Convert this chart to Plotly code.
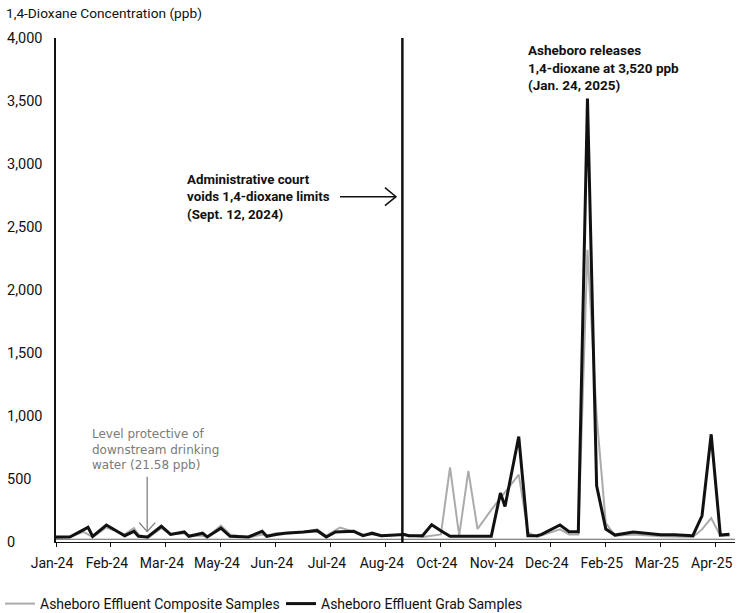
import plotly.graph_objects as go

# x axis: sample slot index (12 slots per labelled tick interval)
tick_slots = [0, 12, 24, 36, 48, 60, 72, 84, 96, 108, 120, 132, 144]
tick_labels = ["Jan-24", "Feb-24", "Mar-24", "May-24", "Jun-24", "Jul-24", "Aug-24",
               "Oct-24", "Nov-24", "Dec-24", "Feb-25", "Mar-25", "Apr-25"]

grab_slots = [0, 3, 7, 8, 11, 15, 17, 18, 20, 23, 25, 28, 29, 32, 33, 36, 38, 42, 45, 46,
              48, 50, 54, 57, 59, 61, 65, 67, 69, 71, 76, 77, 80, 82, 84, 86, 95, 97, 98,
              101, 103, 105, 106, 110, 112, 114, 116, 118, 120, 122, 126, 132, 135, 139,
              141, 143, 145, 147]
grab_ppb = [40, 40, 116, 45, 135, 50, 85, 45, 40, 125, 60, 80, 45, 70, 40, 110, 45, 40, 85, 45,
            60, 70, 80, 90, 40, 80, 85, 50, 70, 50, 60, 50, 50, 137, 90, 45, 45, 388, 282,
            837, 50, 50, 60, 135, 82, 82, 3520, 446, 103, 55, 80, 58, 58, 50,
            208, 855, 55, 62]

comp_slots = [0, 3, 6, 8, 11, 15, 17, 18, 20, 23, 25, 28, 29, 32, 33, 36, 38, 42, 45, 46,
              48, 50, 54, 57, 59, 62, 65, 67, 69, 71, 76, 80, 84, 86, 88, 90, 92, 95, 101,
              103, 105, 110, 112, 114, 116, 118, 120, 122, 126, 132, 139, 141, 143, 145, 147]
comp_ppb = [30, 40, 80, 40, 115, 60, 110, 60, 30, 110, 60, 70, 50, 50, 40, 130, 60, 35, 60, 50,
            70, 75, 80, 100, 50, 115, 80, 60, 60, 50, 60, 40, 60, 592, 50, 565, 103, 255, 535,
            77, 40, 100, 60, 60, 2320, 1000, 150, 50, 60, 45, 40, 100, 190, 50, 50]

y_ticks = [0, 500, 1000, 1500, 2000, 2500, 3000, 3500, 4000]
protective_level = 21.58
court_slot = 75.6          # Sept. 12, 2024
release_slot = 116         # Jan. 24, 2025

FONT = "Roboto"
L, R, T, B = 56, 3, 38, 71
W, H = 738, 613
PW, PH = W - L - R, H - T - B
XMAX = 148.2
YMAX = 4000

fig = go.Figure()
fig.add_trace(go.Scatter(x=comp_slots, y=comp_ppb, mode="lines",
                         name="Asheboro Effluent Composite Samples",
                         line=dict(color="#ababab", width=2)))
fig.add_trace(go.Scatter(x=grab_slots, y=grab_ppb, mode="lines",
                         name="Asheboro Effluent Grab Samples",
                         line=dict(color="#111111", width=3)))

shapes = []
shapes.append(dict(type="line", xref="paper", x0=0, x1=1, y0=protective_level, y1=protective_level,
                   line=dict(color="#666666", width=1)))
shapes.append(dict(type="line", x0=court_slot, x1=court_slot, yref="paper", y0=0, y1=1,
                   line=dict(color="#111111", width=2.5)))

px_x = XMAX / PW   # slots per pixel
px_y = YMAX / PH   # ppb per pixel

# court arrow (pointing right)
ay = 2741
tip = court_slot - 1.4
shapes.append(dict(type="line", x0=tip - 56 * px_x, x1=tip, y0=ay, y1=ay,
                   line=dict(color="#111111", width=1.5)))
shapes.append(dict(type="path",
                   path=f"M {tip - 11*px_x} {ay + 9*px_y} L {tip} {ay} L {tip - 11*px_x} {ay - 9*px_y}",
                   line=dict(color="#111111", width=1.5)))
# protective-level arrow (pointing down)
ax_ = 19.9
top_v, tip_v = 518, 82
shapes.append(dict(type="line", x0=ax_, x1=ax_, y0=top_v, y1=tip_v,
                   line=dict(color="#777777", width=1.2)))
shapes.append(dict(type="path",
                   path=f"M {ax_ - 8*px_x} {tip_v + 9*px_y} L {ax_} {tip_v} L {ax_ + 8*px_x} {tip_v + 9*px_y}",
                   line=dict(color="#777777", width=1.2)))

ann = []
for v in y_ticks:
    ann.append(dict(xref="paper", x=(5 - L) / PW, xanchor="left", y=v, yanchor="middle",
                    text=f"{v:,}", showarrow=False, font=dict(family=FONT, size=14.5, color="#111")))
ann.append(dict(xref="paper", yref="paper", x=(4 - L) / PW, y=(H - B - 13) / PH, xanchor="left",
                yanchor="middle", text="1,4-Dioxane Concentration (ppb)", showarrow=False,
                font=dict(family=FONT, size=13.7, color="#111")))
ann.append(dict(xref="paper", yref="paper", x=(185 - L) / PW, y=(H - B - 196.5) / PH,
                xanchor="left", yanchor="middle", align="left", showarrow=False,
                text="<b>Administrative court<br>voids 1,4-dioxane limits<br>(Sept. 12, 2024)</b>",
                font=dict(family=FONT, size=13.3, color="#111")))
ann.append(dict(xref="paper", yref="paper", x=(526 - L) / PW, y=(H - B - 67.5) / PH,
                xanchor="left", yanchor="middle", align="left", showarrow=False,
                text="<b>Asheboro releases<br>1,4-dioxane at 3,520 ppb<br>(Jan. 24, 2025)</b>",
                font=dict(family=FONT, size=13.5, color="#111")))
ann.append(dict(xref="paper", yref="paper", x=(90 - L) / PW, y=(H - B - 449.5) / PH,
                xanchor="left", yanchor="middle", align="left", showarrow=False,
                text="Level protective of<br>downstream drinking<br>water (21.58 ppb)",
                font=dict(family="DejaVu Sans", size=12, color="#7a7a7a")))

fig.update_layout(
    width=W, height=H,
    margin=dict(l=L, r=R, t=T, b=B, autoexpand=False),
    paper_bgcolor="white", plot_bgcolor="white",
    font=dict(family=FONT, size=13, color="#111"),
    showlegend=True,
    legend=dict(orientation="h", xref="container", yref="container",
                x=-0.004, xanchor="left", y=1 - 604 / H, yanchor="middle",
                font=dict(family=FONT, size=14, color="#111"), itemwidth=30,
                entrywidth=236, tracegroupgap=0),
    shapes=shapes,
    annotations=ann,
    xaxis=dict(range=[0, XMAX], tickvals=tick_slots, ticktext=tick_labels, automargin=False,
               showgrid=False, zeroline=False, showline=True, linecolor="#111", linewidth=1,
               ticks="outside", ticklen=4, tickcolor="#111",
               ticklabelshift=-4, ticklabelstandoff=4,
               tickfont=dict(family=FONT, size=14, color="#111")),
    yaxis=dict(range=[0, YMAX], tickvals=y_ticks, showticklabels=False, showgrid=False,
               automargin=False,
               zeroline=False, showline=True, linecolor="#111", linewidth=1.5, ticks=""),
)

fig.write_html("out.html", config={"displayModeBar": False},
               post_script="document.body.style.margin='0';document.body.style.padding='0';")
